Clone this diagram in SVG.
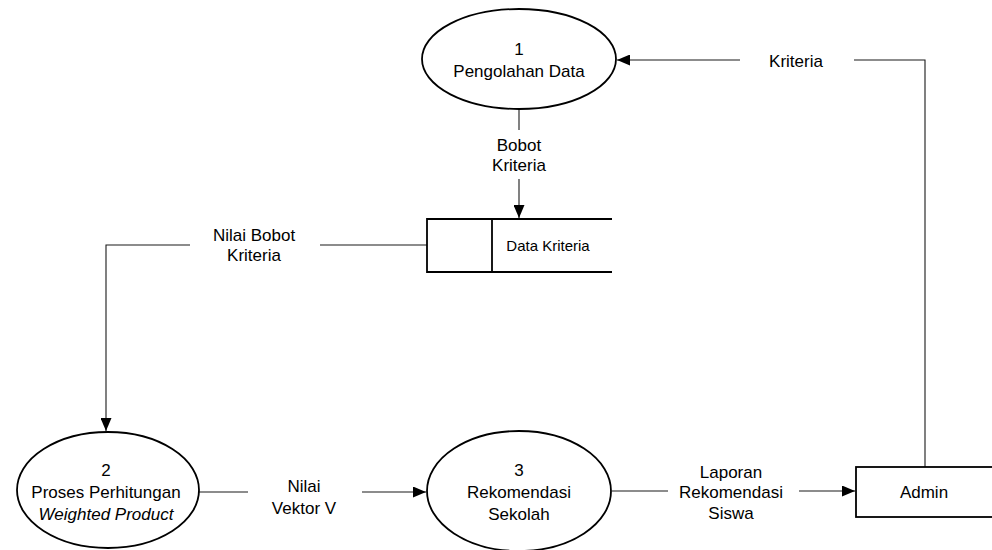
<svg xmlns="http://www.w3.org/2000/svg" width="992" height="550" viewBox="0 0 992 550">
  <style>
    .shape { fill: #ffffff; stroke: #000000; stroke-width: 1.8; }
    .flow { fill: none; stroke: #1a1a1a; stroke-width: 1.1; }
    text { font-family: "Liberation Sans", Arial, sans-serif; font-size: 17px; fill: #000000; text-anchor: middle; }
    .store-text { font-size: 15px; }
    .it { font-style: italic; }
  </style>
  <defs>
    <marker id="arrow" viewBox="0 0 13 11" refX="13" refY="5.5" markerWidth="13" markerHeight="11" markerUnits="userSpaceOnUse" orient="auto">
      <path d="M0,0 L13,5.5 L0,11 Z" fill="#000000"/>
    </marker>
  </defs>

  <rect width="992" height="550" fill="#ffffff"/>

  <!-- data flows -->
  <g id="connectors">
    <!-- Admin -> Pengolahan Data : Kriteria -->
    <polyline class="flow" points="925,467 925,60 854,60"/>
    <line class="flow" x1="740" y1="60" x2="617" y2="60" marker-end="url(#arrow)"/>
    <!-- Pengolahan Data -> Data Kriteria : Bobot Kriteria -->
    <line class="flow" x1="519" y1="108" x2="519" y2="130"/>
    <line class="flow" x1="519" y1="179" x2="519" y2="218" marker-end="url(#arrow)"/>
    <!-- Data Kriteria -> Proses Perhitungan : Nilai Bobot Kriteria -->
    <line class="flow" x1="427" y1="245" x2="320" y2="245"/>
    <polyline class="flow" points="190,245 106,245 106,431" marker-end="url(#arrow)"/>
    <!-- Proses Perhitungan -> Rekomendasi Sekolah : Nilai Vektor V -->
    <line class="flow" x1="199" y1="492" x2="248" y2="492"/>
    <line class="flow" x1="362" y1="492" x2="426" y2="492" marker-end="url(#arrow)"/>
    <!-- Rekomendasi Sekolah -> Admin : Laporan Rekomendasi Siswa -->
    <line class="flow" x1="612" y1="491" x2="668" y2="491"/>
    <line class="flow" x1="799" y1="491" x2="855" y2="491" marker-end="url(#arrow)"/>

    <text x="796" y="67">Kriteria</text>
    <text x="519" y="151">Bobot</text>
    <text x="519" y="171">Kriteria</text>
    <text x="254" y="241">Nilai Bobot</text>
    <text x="254" y="261">Kriteria</text>
    <text x="304" y="492">Nilai</text>
    <text x="304" y="514">Vektor V</text>
    <text x="731" y="478">Laporan</text>
    <text x="731" y="498">Rekomendasi</text>
    <text x="731" y="519">Siswa</text>
  </g>

  <!-- process 1 -->
  <g id="p1-pengolahan-data">
    <ellipse class="shape" cx="519" cy="59" rx="97" ry="50"/>
    <text x="519" y="55">1</text>
    <text x="519" y="77">Pengolahan Data</text>
  </g>

  <!-- data store -->
  <g id="ds-data-kriteria">
    <rect x="427" y="219" width="190" height="53" fill="#ffffff" stroke="none"/>
    <polyline class="shape" fill="none" points="612,219 427,219 427,272 612,272"/>
    <line class="shape" x1="492" y1="219" x2="492" y2="272"/>
    <text class="store-text" x="548" y="251">Data Kriteria</text>
  </g>

  <!-- process 2 -->
  <g id="p2-proses-perhitungan">
    <ellipse class="shape" cx="108" cy="490" rx="91" ry="58"/>
    <text x="106" y="476">2</text>
    <text x="106" y="498">Proses Perhitungan</text>
    <text class="it" x="106" y="520">Weighted Product</text>
  </g>

  <!-- process 3 -->
  <g id="p3-rekomendasi-sekolah">
    <ellipse class="shape" cx="519" cy="491" rx="92" ry="60"/>
    <text x="519" y="476">3</text>
    <text x="519" y="498">Rekomendasi</text>
    <text x="519" y="520">Sekolah</text>
  </g>

  <!-- external entity -->
  <g id="ext-admin">
    <rect class="shape" x="856" y="467" width="160" height="50"/>
    <text x="924" y="498">Admin</text>
  </g>
</svg>
